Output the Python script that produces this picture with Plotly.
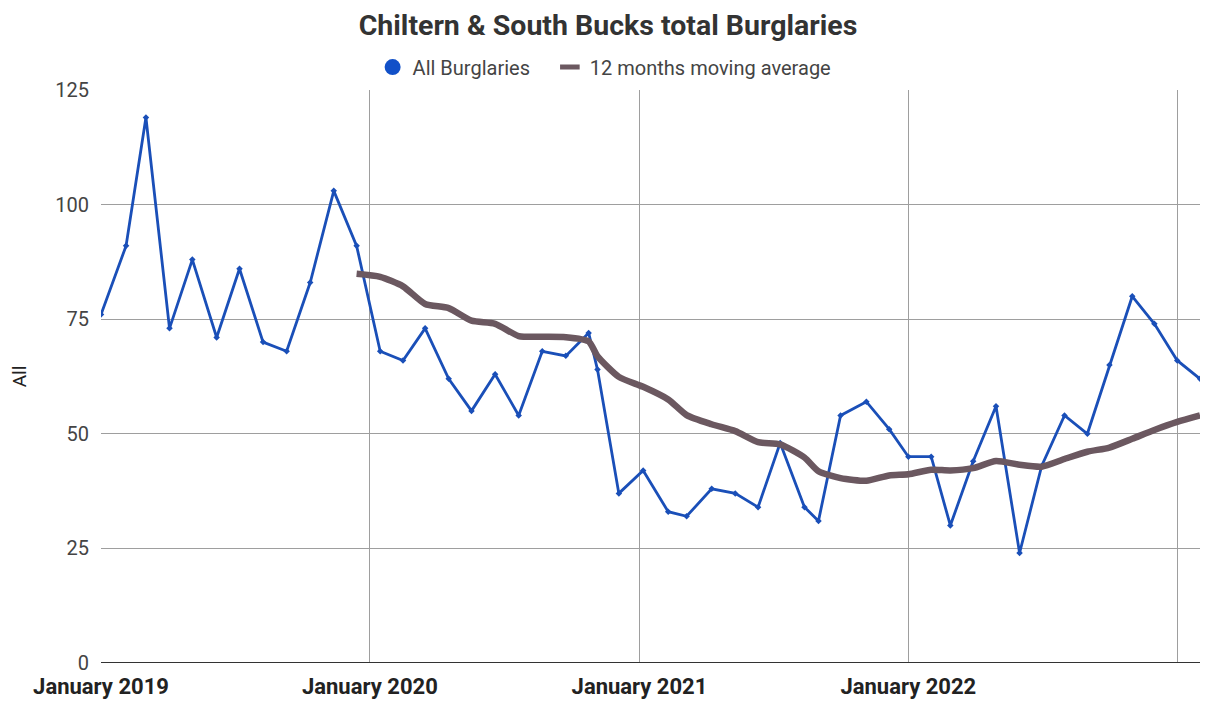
import plotly.graph_objects as go

# Dates as positioned in the reference chart
dates = [
    "2019-01-01", "2019-02-04", "2019-03-03", "2019-04-04", "2019-05-05",
    "2019-06-07", "2019-07-08", "2019-08-09", "2019-09-10", "2019-10-12",
    "2019-11-13", "2019-12-14", "2020-01-15", "2020-02-15", "2020-03-16",
    "2020-04-17", "2020-05-18", "2020-06-19", "2020-07-21", "2020-08-22",
    "2020-09-23", "2020-10-24", "2020-11-05", "2020-12-04", "2021-01-06",
    "2021-02-09", "2021-03-06", "2021-04-09", "2021-05-11", "2021-06-11",
    "2021-07-11", "2021-08-13", "2021-09-01", "2021-10-01", "2021-11-05",
    "2021-12-06", "2022-01-01", "2022-02-01", "2022-02-27", "2022-03-30",
    "2022-04-30", "2022-06-01", "2022-07-01", "2022-08-01", "2022-09-01",
    "2022-10-01", "2022-11-01", "2022-12-01", "2023-01-01", "2023-02-01",
]

all_burglaries = [
    76, 91, 119, 73, 88, 71, 86, 70, 68, 83,
    103, 91, 68, 66, 73, 62, 55, 63, 54, 68,
    67, 72, 64, 37, 42, 33, 32, 38, 37, 34,
    48, 34, 31, 54, 57, 51, 45, 45, 30, 44,
    56, 24, 43, 54, 50, 65, 80, 74, 66, 62,
]

# 12 months moving average (starts at the 12th point)
ma_dates = dates[11:]
moving_avg = [
    84.92, 84.25, 82.17, 78.33, 77.42, 74.67, 74.00, 71.33, 71.17, 71.08,
    70.17, 66.92, 62.42, 60.25, 57.50, 54.08, 52.08, 50.58, 48.17, 47.67,
    44.83, 41.83, 40.33, 39.75, 40.92, 41.17, 42.17, 42.00, 42.50, 44.08,
    43.25, 42.83, 44.50, 46.08, 47.00, 48.92, 50.83, 52.58, 54.00,
]

tick_vals = ["2019-01-01", "2020-01-01", "2021-01-01", "2022-01-01", "2023-01-01"]
tick_text = ["<b>January 2019</b>", "<b>January 2020</b>", "<b>January 2021</b>",
             "<b>January 2022</b>", ""]

y_ticks = [0, 25, 50, 75, 100, 125]

BLUE = "#1a4fb8"
MAUVE = "#6b5860"
NBSP = "\u00a0"

fig = go.Figure()
fig.add_trace(go.Scatter(
    x=dates, y=all_burglaries, name="All Burglaries",
    mode="lines+markers", showlegend=False,
    line=dict(color=BLUE, width=2.8),
    marker=dict(color=BLUE, size=5, symbol="diamond"),
))
fig.add_trace(go.Scatter(
    x=ma_dates, y=moving_avg, name="12 months moving average",
    mode="lines", showlegend=False,
    line=dict(color=MAUVE, width=6.5, shape="spline", smoothing=0.6),
))
# legend entries (styled like the reference legend)
fig.add_trace(go.Scatter(
    x=[None], y=[None], name="All Burglaries" + NBSP * 3, mode="markers",
    marker=dict(color="#1150c8", size=17, symbol="circle"),
))
fig.add_trace(go.Scatter(
    x=[None], y=[None], name="12 months moving average", mode="markers",
    marker=dict(color=MAUVE, size=14, symbol="line-ew",
                line=dict(color=MAUVE, width=5.5)),
))

fig.update_layout(
    width=1200, height=693,
    margin=dict(l=93, r=5, t=82, b=38),
    paper_bgcolor="white", plot_bgcolor="white",
    font=dict(family="Roboto", color="#444444", size=19),
    title=dict(
        text="<b>Chiltern & South Bucks total Burglaries</b>",
        x=0.5, xanchor="center", y=0.976, yanchor="middle",
        font=dict(family="Roboto", size=28.5, color="#333333"),
    ),
    legend=dict(
        orientation="h", x=0.457, xanchor="center",
        y=1.04, yanchor="middle",
        font=dict(family="Roboto", size=20, color="#444444"),
        itemsizing="trace", itemwidth=30,
    ),
    showlegend=True,
    hovermode=False,
)

fig.update_xaxes(
    type="date",
    range=["2019-01-01", "2023-02-05"],
    tickmode="array", tickvals=tick_vals, ticktext=tick_text,
    tickfont=dict(family="Roboto", size=22, color="#222222"),
    ticklabelstandoff=8, tickangle=0, automargin=False,
    showgrid=True, gridcolor="#9e9e9e", gridwidth=1,
    showline=False, zeroline=False, ticks="",
)
fig.update_yaxes(
    range=[0, 125],
    tickmode="array", tickvals=y_ticks,
    tickfont=dict(family="Roboto", size=20, color="#444444"),
    ticklabelstandoff=11, automargin=False,
    showgrid=True, gridcolor="#9e9e9e", gridwidth=1,
    zeroline=False, showline=False, ticks="",
    title=dict(text="All", font=dict(family="Roboto", size=19, color="#222222"), standoff=26),
)

# Dark baseline at y=0 (axis line)
fig.add_shape(type="line", xref="paper", yref="y", x0=0, x1=1, y0=0, y1=0,
              line=dict(color="#333333", width=2), layer="above")

fig.write_html("out.html")
